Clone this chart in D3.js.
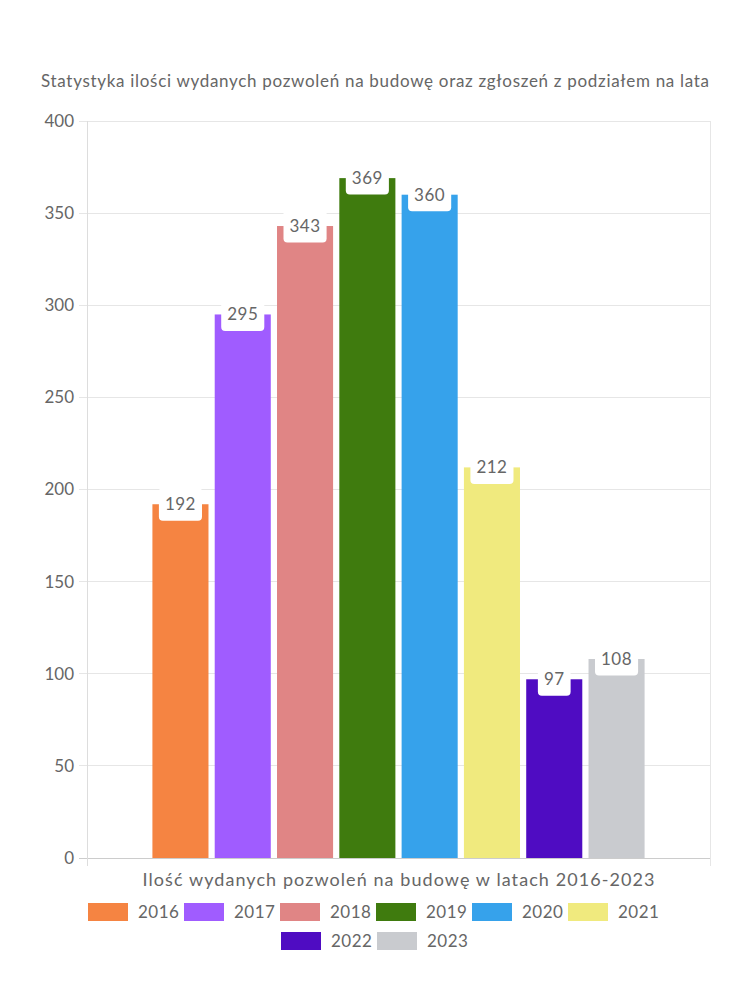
<!DOCTYPE html>
<html><head><meta charset="utf-8">
<script src="https://cdn.jsdelivr.net/npm/d3@7"></script>
<style>body{margin:0;background:#fff}svg{display:block}text{font-family:Lato,"Noto Sans",sans-serif}</style>
</head><body>
<svg id="c" width="750" height="1000"></svg>
<script>
const years = ["2016","2017","2018","2019","2020","2021","2022","2023"];
const values = [192,295,343,369,360,212,97,108];
const colors = ["#F58442","#A05CFF","#E08585","#3F7B0E","#36A2EB","#F0EA7E","#4F0CC2","#C9CBCF"];
const yTicks = [0,50,100,150,200,250,300,350,400];
const titleText = "Statystyka ilości wydanych pozwoleń na budowę oraz zgłoszeń z podziałem na lata";
const xTitleText = "Ilość wydanych pozwoleń na budowę w latach 2016-2023";

const svg = d3.select("#c");
const L = 87, R = 710, T = 121, B = 858;
const W = R - L;
const y = d3.scaleLinear().domain([0,400]).range([B,T]);
const inner = d3.scaleBand().domain(years).range([L+0.1*W, R-0.1*W]).paddingInner(0.1).paddingOuter(0.05);

// title
svg.append("text").attr("x",375).attr("y",87).attr("text-anchor","middle")
  .attr("font-size",17).attr("fill","#666").attr("textLength",668).attr("lengthAdjust","spacing").text(titleText);

// grid
const grid = svg.append("g");
grid.selectAll("line.h").data(yTicks).enter().append("line")
  .attr("x1",L-8).attr("x2",R).attr("y1",d=>y(d)).attr("y2",d=>y(d))
  .attr("stroke",d=>d===0?"#ccc":"#e6e6e6").attr("stroke-width",1).attr("shape-rendering","crispEdges");
grid.append("line").attr("x1",L).attr("x2",L).attr("y1",T).attr("y2",B+8).attr("stroke","#ddd").attr("shape-rendering","crispEdges");
grid.append("line").attr("x1",R).attr("x2",R).attr("y1",T).attr("y2",B+8).attr("stroke","#e6e6e6").attr("shape-rendering","crispEdges");

// y tick labels
svg.append("g").selectAll("text").data(yTicks).enter().append("text")
  .attr("x",74).attr("y",d=>y(d)).attr("dy","0.35em").attr("text-anchor","end")
  .attr("font-size",17).attr("fill","#666").text(d=>d);

// bars
svg.append("g").selectAll("rect").data(years).enter().append("rect")
  .attr("x",d=>inner(d)).attr("width",inner.bandwidth())
  .attr("y",(d,i)=>y(values[i])).attr("height",(d,i)=>B-y(values[i]))
  .attr("fill",(d,i)=>colors[i]);

// data labels
const lab = svg.append("g");
years.forEach((d,i)=>{
  const cx = inner(d)+inner.bandwidth()/2, cy = y(values[i]);
  const t = lab.append("text").attr("x",cx).attr("y",cy).attr("dy","0.35em").attr("text-anchor","middle")
    .attr("font-size",17).attr("fill","#666").attr("letter-spacing",0.5).text(values[i]);
  const w = t.node().getComputedTextLength()+12, h = 33;
  lab.insert("rect", () => t.node()).attr("x",cx-w/2).attr("y",cy-h/2).attr("width",w).attr("height",h)
    .attr("rx",4).attr("fill","#fff");
});

// x title
svg.append("text").attr("x",(L+R)/2).attr("y",886).attr("text-anchor","middle")
  .attr("font-size",18).attr("fill","#666").attr("textLength",512).attr("lengthAdjust","spacing").text(xTitleText);

// legend
const leg = svg.append("g");
const items = years.map((d,i)=>{
  const t = leg.append("text").attr("font-size",17).attr("fill","#666").attr("letter-spacing",0.5).attr("dy","0.35em").text(d);
  return {t, w: 96, i};
});
const rows = [[]]; let rw = 0;
items.forEach(it=>{ if(rw+it.w>600 && rows[rows.length-1].length){rows.push([]);rw=0;} rows[rows.length-1].push(it); rw+=it.w;});
rows.forEach((row,ri)=>{
  const tot = d3.sum(row,r=>r.w)-10;
  let x = 375 - tot/2 + (ri===1?-3:-4); const cy = 912 + ri*29;
  row.forEach(it=>{
    leg.append("rect").attr("x",x).attr("y",cy-9).attr("width",40).attr("height",18).attr("fill",colors[it.i]);
    it.t.attr("x",x+50).attr("y",cy);
    x += it.w;
  });
});
</script>
</body></html>
